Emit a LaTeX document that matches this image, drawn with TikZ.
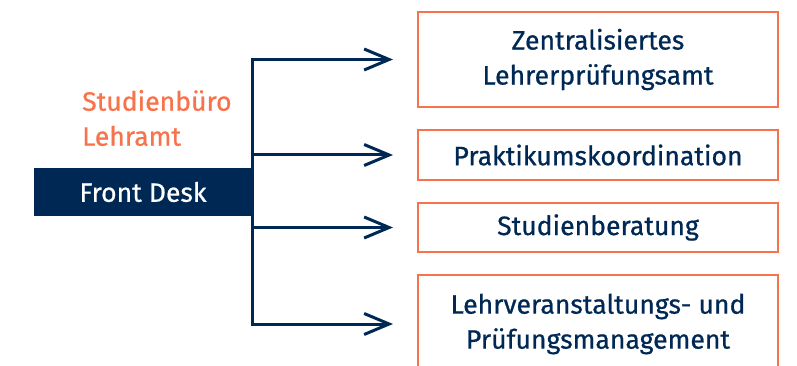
\documentclass[tikz,border=0pt]{standalone}
\usepackage{fontspec}
\setmainfont{Fira Sans}[FakeBold=0.7]
\usetikzlibrary{arrows.meta}
\definecolor{navy}{RGB}{0,40,84}
\definecolor{orng}{RGB}{247,115,75}
\begin{document}
\begin{tikzpicture}[x=1pt,y=-1pt,
  txt/.style={font=\fontsize{26.6}{35}\selectfont},
  box/.style={txt, draw=orng, line width=2pt, minimum width=360pt, text=navy, align=center, inner sep=0pt},
  desk/.style={txt, fill=navy, text=white, minimum width=218pt, minimum height=48pt, inner sep=0pt},
  conn/.style={draw=navy, line width=3pt, line join=miter, shorten >=24pt, -{Straight Barb[length=25pt,width=21pt,line width=3pt]}},
]
\clip (0,0) rectangle (797,366);
\useasboundingbox (0,0) rectangle (797,366);
\node[box, minimum height=95pt] (b1) at (598,59.5) {Zentralisiertes\\Lehrerprüfungsamt};
\node[box, minimum height=50pt] (b2) at (598,155) {Praktikumskoordination};
\node[box, minimum height=49pt] (b3) at (598,227.5) {Studienberatung};
\node[box, minimum height=98pt] (b4) at (598,324) {Lehrveranstaltungs- und\\Prüfungsmanagement};
\node[desk] (fd) at (143,192) {Front Desk};
\node[txt, text=orng, align=left, anchor=west, inner sep=0pt] (sb) at (82,118) {Studienbüro\\Lehramt};
\coordinate (j2) at (fd.east |- b2.west);
\coordinate (j3) at (fd.east |- b3.west);
\draw[conn] (fd.east) |- (b1.west);
\draw[conn] (fd.east) |- (b4.west);
\draw[conn] (j2) -- (b2.west);
\draw[conn] (j3) -- (b3.west);
\end{tikzpicture}
\end{document}
